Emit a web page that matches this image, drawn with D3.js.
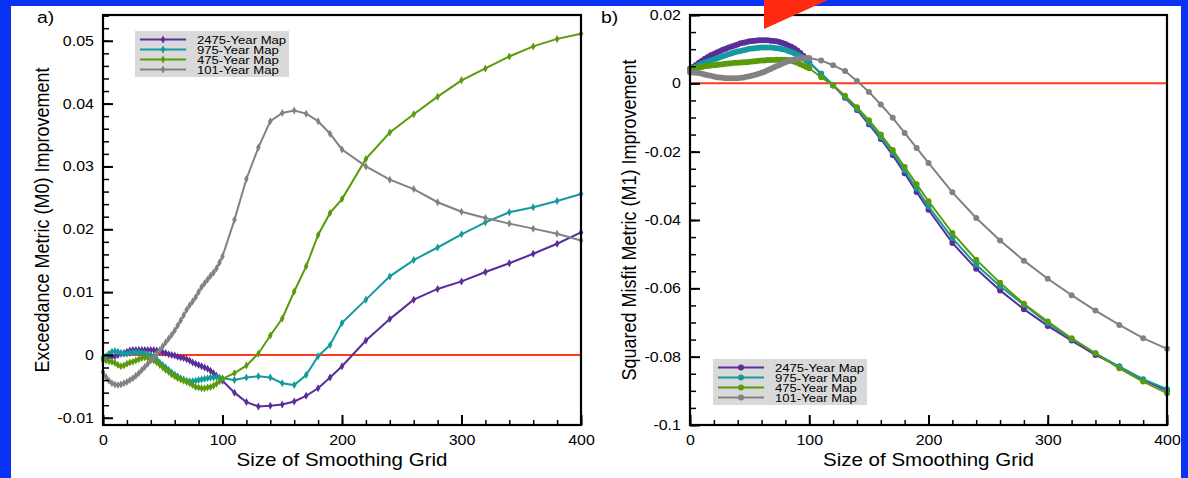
<!DOCTYPE html>
<html>
<head>
<meta charset="utf-8">
<script src="https://cdn.jsdelivr.net/npm/d3@7"></script>
<style>
  html, body { margin: 0; padding: 0; background: #fff; }
  svg { display: block; font-family: "Liberation Sans", Arial, Helvetica, sans-serif; }
</style>
</head>
<body>
<svg id="chart" width="1188" height="478"></svg>
<script>
// Grid sizes (x) shared by every series
const xGrid = [0, 2.5, 5, 7.5, 10, 12.5, 15, 17.5, 20, 22.5, 25, 27.5, 30, 32.5, 35, 37.5, 40, 42.5, 45, 47.5,
  50, 52.5, 55, 57.5, 60, 62.5, 65, 67.5, 70, 72.5, 75, 77.5, 80, 82.5, 85, 87.5, 90, 92.5, 95, 97.5, 100,
  110, 120, 130, 140, 150, 160, 170, 180, 190, 200,
  220, 240, 260, 280, 300, 320, 340, 360, 380, 400];

const seriesNames = ["2475-Year Map", "975-Year Map", "475-Year Map", "101-Year Map"];

// a) Exceedance Metric (M0) Improvement
const m0_2475 = [-0.0006, -0.0005, -0.0004, -0.0003, -0.0002, 0.0000, 0.0002, 0.0003, 0.0005, 0.0007,
  0.0008, 0.0008, 0.0008, 0.0008, 0.0008, 0.0008, 0.0008, 0.0008, 0.0007, 0.0006,
  0.0004, 0.0003, 0.0001, 0.0000, -0.0001, -0.0003, -0.0004, -0.0005, -0.0007, -0.0009,
  -0.0012, -0.0014, -0.0016, -0.0018, -0.0020, -0.0022, -0.0025, -0.0029, -0.0033, -0.0037, -0.0041,
  -0.0060, -0.0075, -0.0082, -0.0081, -0.0079, -0.0074, -0.0065, -0.0053, -0.0036, -0.0018,
  0.0023, 0.0057, 0.0088, 0.0105, 0.0117, 0.0132, 0.0146, 0.0161, 0.0177, 0.0195];
const m0_975 = [-0.0004, -0.0002, 0.0002, 0.0005, 0.0006, 0.0005, 0.0003, 0.0002, 0.0002, 0.0003,
  0.0004, 0.0004, 0.0004, 0.0003, 0.0002, 0.0001, 0.0000, -0.0003, -0.0007, -0.0012,
  -0.0016, -0.0020, -0.0024, -0.0028, -0.0031, -0.0034, -0.0037, -0.0039, -0.0041, -0.0042,
  -0.0042, -0.0041, -0.0040, -0.0039, -0.0038, -0.0037, -0.0036, -0.0036, -0.0035, -0.0036, -0.0037,
  -0.0040, -0.0036, -0.0034, -0.0036, -0.0045, -0.0048, -0.0032, -0.0002, 0.0016, 0.0051,
  0.0088, 0.0125, 0.0151, 0.0171, 0.0192, 0.0211, 0.0227, 0.0235, 0.0245, 0.0256];
const m0_475 = [-0.0008, -0.0009, -0.0010, -0.0011, -0.0013, -0.0016, -0.0018, -0.0017, -0.0014, -0.0012,
  -0.0011, -0.0009, -0.0007, -0.0005, -0.0004, -0.0005, -0.0007, -0.0009, -0.0012, -0.0016,
  -0.0020, -0.0024, -0.0027, -0.0031, -0.0034, -0.0037, -0.0039, -0.0041, -0.0043, -0.0045,
  -0.0048, -0.0051, -0.0052, -0.0053, -0.0053, -0.0052, -0.0051, -0.0049, -0.0046, -0.0042, -0.0038,
  -0.0029, -0.0017, 0.0002, 0.0031, 0.0058, 0.0101, 0.0141, 0.0191, 0.0226, 0.0248,
  0.0312, 0.0354, 0.0383, 0.0411, 0.0437, 0.0456, 0.0475, 0.0491, 0.0503, 0.0511];
const m0_101 = [-0.0027, -0.0035, -0.0041, -0.0045, -0.0047, -0.0048, -0.0047, -0.0045, -0.0043, -0.0040,
  -0.0037, -0.0033, -0.0029, -0.0024, -0.0019, -0.0014, -0.0009, -0.0004, 0.0002, 0.0008,
  0.0014, 0.0020, 0.0026, 0.0032, 0.0039, 0.0047, 0.0055, 0.0063, 0.0072, 0.0079,
  0.0085, 0.0092, 0.0100, 0.0108, 0.0114, 0.0120, 0.0126, 0.0131, 0.0138, 0.0147, 0.0157,
  0.0215, 0.0280, 0.0330, 0.0372, 0.0385, 0.0389, 0.0384, 0.0372, 0.0352, 0.0327,
  0.0300, 0.0279, 0.0264, 0.0243, 0.0228, 0.0218, 0.0209, 0.0201, 0.0193, 0.0182];

// b) Squared Misfit Metric (M1) Improvement
const m1_2475 = [0.0042, 0.0048, 0.0054, 0.0060, 0.0066, 0.0072, 0.0077, 0.0082, 0.0086, 0.0090,
  0.0094, 0.0098, 0.0101, 0.0105, 0.0108, 0.0111, 0.0114, 0.0117, 0.0119, 0.0121,
  0.0123, 0.0124, 0.0125, 0.0126, 0.0126, 0.0126, 0.0126, 0.0125, 0.0124, 0.0123,
  0.0121, 0.0118, 0.0115, 0.0111, 0.0107, 0.0102, 0.0096, 0.0089, 0.0081, 0.0072, 0.0062,
  0.0028, -0.0006, -0.0042, -0.0078, -0.0120, -0.0163, -0.0210, -0.0263, -0.0318, -0.0370,
  -0.0467, -0.0543, -0.0606, -0.0661, -0.0710, -0.0753, -0.0795, -0.0829, -0.0868, -0.0899];
const m1_975 = [0.0042, 0.0045, 0.0049, 0.0053, 0.0057, 0.0061, 0.0064, 0.0067, 0.0070, 0.0073,
  0.0076, 0.0079, 0.0082, 0.0085, 0.0088, 0.0091, 0.0093, 0.0095, 0.0097, 0.0099,
  0.0101, 0.0102, 0.0103, 0.0104, 0.0105, 0.0105, 0.0105, 0.0105, 0.0104, 0.0103,
  0.0102, 0.0100, 0.0098, 0.0095, 0.0092, 0.0088, 0.0084, 0.0079, 0.0073, 0.0067, 0.0060,
  0.0028, -0.0005, -0.0040, -0.0075, -0.0115, -0.0158, -0.0203, -0.0255, -0.0308, -0.0360,
  -0.0453, -0.0531, -0.0594, -0.0648, -0.0702, -0.0749, -0.0790, -0.0829, -0.0866, -0.0895];
const m1_475 = [0.0042, 0.0043, 0.0045, 0.0047, 0.0048, 0.0050, 0.0051, 0.0052, 0.0053, 0.0054,
  0.0055, 0.0056, 0.0057, 0.0058, 0.0059, 0.0060, 0.0060, 0.0061, 0.0062, 0.0062,
  0.0063, 0.0064, 0.0065, 0.0066, 0.0067, 0.0067, 0.0068, 0.0068, 0.0068, 0.0069,
  0.0069, 0.0069, 0.0069, 0.0068, 0.0066, 0.0063, 0.0060, 0.0056, 0.0052, 0.0048, 0.0044,
  0.0018, -0.0006, -0.0036, -0.0070, -0.0108, -0.0150, -0.0195, -0.0245, -0.0295, -0.0345,
  -0.0438, -0.0516, -0.0584, -0.0645, -0.0697, -0.0746, -0.0790, -0.0834, -0.0873, -0.0907];
const m1_101 = [0.0032, 0.0032, 0.0031, 0.0030, 0.0028, 0.0026, 0.0024, 0.0022, 0.0020, 0.0018,
  0.0017, 0.0016, 0.0015, 0.0015, 0.0015, 0.0015, 0.0015, 0.0016, 0.0017, 0.0019,
  0.0021, 0.0023, 0.0025, 0.0028, 0.0031, 0.0034, 0.0038, 0.0042, 0.0046, 0.0050,
  0.0054, 0.0058, 0.0062, 0.0065, 0.0068, 0.0070, 0.0072, 0.0073, 0.0074, 0.0074, 0.0074,
  0.0067, 0.0053, 0.0036, 0.0007, -0.0025, -0.0062, -0.0101, -0.0145, -0.0189, -0.0233,
  -0.0319, -0.0394, -0.0460, -0.0519, -0.0572, -0.0620, -0.0665, -0.0707, -0.0746, -0.0777];

// Tick values and labels
const xTicks = [0, 100, 200, 300, 400];
const xTickLabels = ["0", "100", "200", "300", "400"];
const m0Ticks = [-0.01, 0, 0.01, 0.02, 0.03, 0.04, 0.05];
const m0TickLabels = ["-0.01", "0", "0.01", "0.02", "0.03", "0.04", "0.05"];
const m1Ticks = [-0.1, -0.08, -0.06, -0.04, -0.02, 0, 0.02];
const m1TickLabels = ["-0.1", "-0.08", "-0.06", "-0.04", "-0.02", "0", "0.02"];

const colors = ["#5a2d9a", "#149a9e", "#5a9a0c", "#828282"];
const red = "#ff3a1a";
const stretch = 1.14; // the source figure is slightly wider than tall

const svg = d3.select("#chart");

// Blue slide frame
svg.append("rect").attr("width", 1188).attr("height", 478).attr("fill", "#0a32f5");
svg.append("rect").attr("x", 11).attr("y", 6).attr("width", 1170).attr("height", 472).attr("fill", "#fff");

function drawPanel(cfg) {
    const x = d3.scaleLinear().domain([0, 400]).range([cfg.left, cfg.right]);
    const y = d3.scaleLinear().domain(cfg.yDomain).range([cfg.bottom, cfg.top]);
    const g = svg.append("g");

    // zero reference line
    g.append("line")
        .attr("x1", x(0)).attr("x2", x(400))
        .attr("y1", y(0)).attr("y2", y(0))
        .attr("stroke", red).attr("stroke-width", 2);

    const line = d3.line().x((d, i) => x(xGrid[i])).y(d => y(d));

    cfg.series.forEach((s, k) => {
        g.append("path").datum(s)
            .attr("d", line)
            .attr("fill", "none")
            .attr("stroke", colors[k])
            .attr("stroke-width", 2);

        const pts = g.append("g").attr("fill", colors[k]);
        if (cfg.marker === "diamond") {
            pts.selectAll("path").data(s).join("path")
                .attr("transform", (d, i) => `translate(${x(xGrid[i])},${y(d)})`)
                .attr("d", "M0,-4L2.3,0L0,4L-2.3,0Z");
        } else {
            pts.selectAll("circle").data(s).join("circle")
                .attr("cx", (d, i) => x(xGrid[i]))
                .attr("cy", d => y(d))
                .attr("r", 3);
        }
    });

    // minor ticks
    g.append("g").attr("transform", `translate(0,${cfg.bottom})`)
        .call(d3.axisBottom(x).tickValues(d3.range(0, 401, 20)).tickSize(-5).tickFormat(""))
        .call(a => a.select(".domain").remove())
        .selectAll("line").attr("stroke", "#000").attr("stroke-width", 1.5);
    g.append("g").attr("transform", `translate(${cfg.left},0)`)
        .call(d3.axisLeft(y).tickValues(cfg.minorTicks).tickSize(-6).tickFormat(""))
        .call(a => a.select(".domain").remove())
        .selectAll("line").attr("stroke", "#000").attr("stroke-width", 1.5);

    // major ticks + labels
    const xa = g.append("g").attr("transform", `translate(0,${cfg.bottom})`)
        .call(d3.axisBottom(x).tickValues(xTicks).tickSize(-10).tickPadding(10)
            .tickFormat((d, i) => xTickLabels[i]));
    const ya = g.append("g").attr("transform", `translate(${cfg.left},0)`)
        .call(d3.axisLeft(y).tickValues(cfg.ticks).tickSize(-10).tickPadding(8)
            .tickFormat((d, i) => cfg.tickLabels[i]));
    [xa, ya].forEach(a => {
        a.select(".domain").remove();
        a.attr("font-size", 14).attr("font-family", null);
        a.selectAll("line").attr("stroke", "#000").attr("stroke-width", 2);
        a.selectAll("text").attr("fill", "#000").attr("transform", `scale(${stretch},1)`);
    });

    // frame
    g.append("rect")
        .attr("x", cfg.left).attr("y", cfg.top)
        .attr("width", cfg.right - cfg.left).attr("height", cfg.bottom - cfg.top)
        .attr("fill", "none").attr("stroke", "#000").attr("stroke-width", 2.2);

    // axis titles
    g.append("text")
        .attr("transform", `translate(${(cfg.left + cfg.right) / 2},466) scale(${stretch},1)`)
        .attr("text-anchor", "middle").attr("font-size", 18)
        .text("Size of Smoothing Grid");
    g.append("text")
        .attr("transform", `translate(${cfg.left - 54},220) scale(${stretch},1) rotate(-90)`)
        .attr("text-anchor", "middle").attr("font-size", 18)
        .text(cfg.yTitle);

    // panel letter
    g.append("text")
        .attr("transform", `translate(${cfg.letterX},23) scale(${stretch},1)`)
        .attr("font-size", 17)
        .text(cfg.letter);

    // legend
    const lg = g.append("g");
    lg.append("rect")
        .attr("x", cfg.legend.x).attr("y", cfg.legend.y)
        .attr("width", 154).attr("height", 46)
        .attr("fill", "#d9d9d9");
    seriesNames.forEach((name, k) => {
        const ly = cfg.legend.y + 8.5 + k * 10;
        const lx = cfg.legend.x + 5;
        lg.append("line")
            .attr("x1", lx).attr("x2", lx + 46)
            .attr("y1", ly).attr("y2", ly)
            .attr("stroke", colors[k]).attr("stroke-width", 2);
        if (cfg.marker === "diamond") {
            lg.append("path")
                .attr("transform", `translate(${lx + 23},${ly})`)
                .attr("d", "M0,-4L2.3,0L0,4L-2.3,0Z")
                .attr("fill", colors[k]);
        } else {
            lg.append("circle").attr("cx", lx + 23).attr("cy", ly).attr("r", 3).attr("fill", colors[k]);
        }
        lg.append("text")
            .attr("transform", `translate(${lx + 57},${ly + 4}) scale(${stretch},1)`)
            .attr("font-size", 11.5)
            .text(name);
    });
}

drawPanel({
    left: 103, right: 581, top: 15, bottom: 425,
    yDomain: [-0.01115, 0.0541],
    ticks: m0Ticks, tickLabels: m0TickLabels,
    minorTicks: d3.range(-0.01, 0.0541, 0.002),
    series: [m0_2475, m0_975, m0_475, m0_101],
    marker: "diamond",
    yTitle: "Exceedance Metric (M0) Improvement",
    letter: "a)", letterX: 37,
    legend: { x: 135, y: 31 }
});

drawPanel({
    left: 690, right: 1167, top: 15, bottom: 425,
    yDomain: [-0.1, 0.02],
    ticks: m1Ticks, tickLabels: m1TickLabels,
    minorTicks: d3.range(-0.1, 0.0201, 0.005),
    series: [m1_2475, m1_975, m1_475, m1_101],
    marker: "circle",
    yTitle: "Squared Misfit Metric (M1) Improvement",
    letter: "b)", letterX: 601,
    legend: { x: 713, y: 359 }
});

// red arrow tip from the slide
svg.append("polygon")
    .attr("points", "764,0 828,0 764,29")
    .attr("fill", "#ff2a10");
</script>
</body>
</html>
